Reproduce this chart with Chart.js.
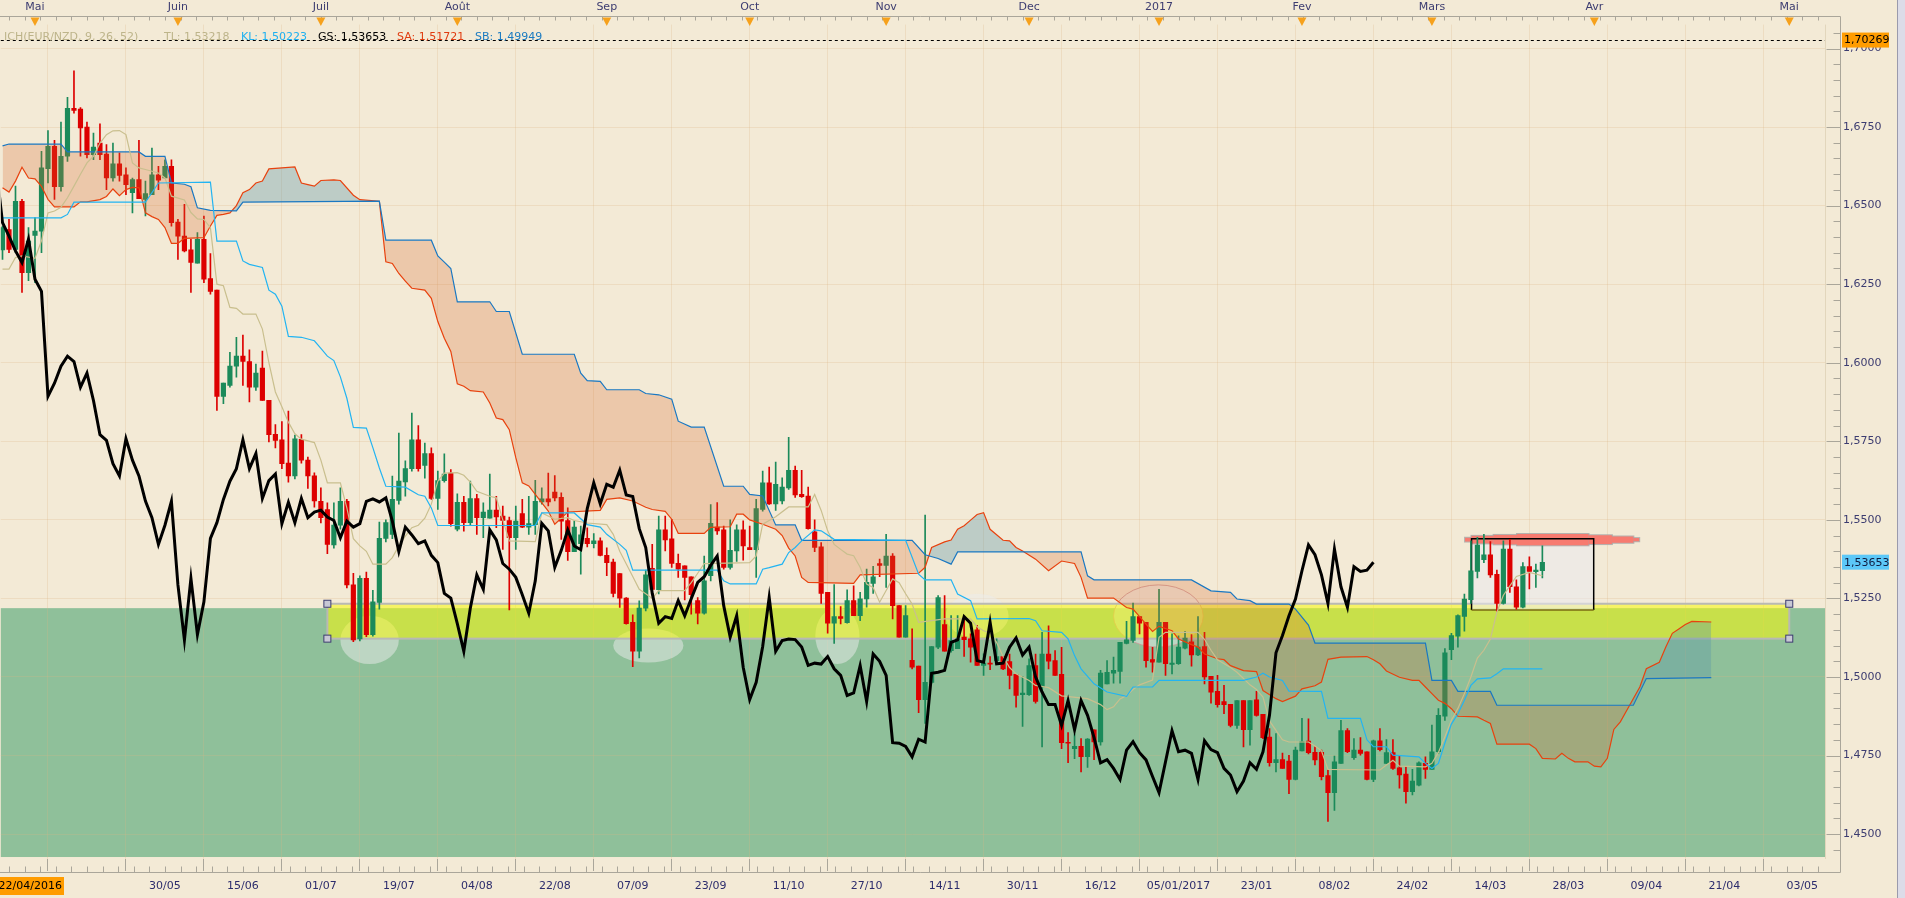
<!DOCTYPE html>
<html lang="fr">
<head>
<meta charset="utf-8">
<title>EUR/NZD - Ichimoku</title>
<script src="https://cdn.jsdelivr.net/npm/chart.js@4.4.1/dist/chart.umd.min.js"></script>
<style>
  html, body { margin: 0; padding: 0; background: #f3ead6; overflow: hidden; }
  canvas { display: block; }
</style>
</head>
<body>
<canvas id="ichimokuChart" width="1905" height="898"></canvas>
<script>
// Bougies journalières EUR/NZD (index = séance)
const opens = [
  1.6359,1.6424,1.6361,1.6514,1.6287,1.6405,1.6419,1.6618,1.6689,1.6560,
  1.6657,1.6810,1.6807,1.6750,1.6662,1.6699,1.6664,1.6588,1.6633,1.6598,
  1.6541,1.6583,1.6520,1.6535,1.6598,1.6588,1.6625,1.6448,1.6403,1.6359,
  1.6317,1.6393,1.6268,1.6231,1.5893,1.5928,1.5989,1.6021,1.6004,1.5922,
  1.5983,1.5880,1.5772,1.5755,1.5681,1.5640,1.5756,1.5690,1.5640,1.5559,
  1.5533,1.5420,1.5483,1.5559,1.5293,1.5121,1.5314,1.5135,1.5237,1.5441,
  1.5454,1.5562,1.5621,1.5663,1.5755,1.5673,1.5711,1.5568,1.5625,1.5649,
  1.5470,1.5556,1.5491,1.5568,1.5507,1.5505,1.5531,1.5512,1.5498,1.5443,
  1.5520,1.5477,1.5485,1.5557,1.5567,1.5588,1.5572,1.5498,1.5399,1.5424,
  1.5441,1.5424,1.5433,1.5387,1.5366,1.5329,1.5251,1.5174,1.5082,1.5219,
  1.5346,1.5278,1.5468,1.5440,1.5362,1.5354,1.5319,1.5243,1.5203,1.5322,
  1.5477,1.5468,1.5349,1.5401,1.5468,1.5412,1.5405,1.5533,1.5618,1.5551,
  1.5560,1.5602,1.5658,1.5581,1.5576,1.5462,1.5414,1.5269,1.5171,1.5192,
  1.5173,1.5243,1.5195,1.5248,1.5298,1.5361,1.5355,1.5385,1.5227,1.5127,
  1.5053,1.5035,1.4928,1.4983,1.5095,1.5167,1.5084,1.5090,1.5127,1.5121,
  1.5150,1.5037,1.5043,1.5052,1.5065,1.5049,1.5008,1.4944,1.4944,1.5036,
  1.4968,1.5073,1.5052,1.5008,1.4791,1.4772,1.4779,1.4746,1.4832,1.4793,
  1.4978,1.5012,1.5018,1.5107,1.5116,1.5192,1.5174,1.5055,1.5047,1.5174,
  1.5040,1.5042,1.5092,1.5112,1.5070,1.5097,1.5002,1.4954,1.4922,1.4913,
  1.4846,1.4925,1.4832,1.4927,1.4881,1.4809,1.4727,1.4737,1.4732,1.4674,
  1.4765,1.4796,1.4760,1.4760,1.4686,1.4632,1.4725,1.4829,1.4743,1.4767,
  1.4762,1.4674,1.4797,1.4725,1.4759,1.4711,1.4691,1.4635,1.4656,1.4725,
  1.4706,1.4762,1.4875,1.5087,1.5130,1.5193,1.5246,1.5336,1.5373,1.5389,
  1.5327,1.5234,1.5407,1.5287,1.5222,1.5351,1.5335,1.5338
];
const highs = [
  1.6435,1.6456,1.6562,1.6520,1.6430,1.6462,1.6673,1.6739,1.6708,1.6766,
  1.6845,1.6929,1.6812,1.6766,1.6731,1.6760,1.6694,1.6699,1.6668,1.6620,
  1.6588,1.6708,1.6578,1.6683,1.6625,1.6646,1.6646,1.6456,1.6504,1.6393,
  1.6414,1.6467,1.6347,1.6231,1.5935,1.6033,1.6081,1.6088,1.6041,1.5996,
  1.6037,1.5880,1.5803,1.5813,1.5846,1.5770,1.5771,1.5700,1.5650,1.5602,
  1.5554,1.5554,1.5602,1.5565,1.5330,1.5322,1.5334,1.5276,1.5493,1.5500,
  1.5639,1.5776,1.5688,1.5840,1.5800,1.5744,1.5729,1.5655,1.5710,1.5660,
  1.5583,1.5575,1.5623,1.5581,1.5554,1.5646,1.5575,1.5544,1.5509,1.5544,
  1.5565,1.5575,1.5626,1.5602,1.5649,1.5641,1.5586,1.5538,1.5496,1.5480,
  1.5475,1.5456,1.5443,1.5411,1.5375,1.5329,1.5253,1.5198,1.5242,1.5340,
  1.5422,1.5512,1.5512,1.5502,1.5391,1.5354,1.5319,1.5253,1.5385,1.5549,
  1.5555,1.5480,1.5500,1.5484,1.5497,1.5480,1.5565,1.5655,1.5668,1.5684,
  1.5634,1.5763,1.5671,1.5658,1.5604,1.5500,1.5428,1.5269,1.5294,1.5224,
  1.5277,1.5290,1.5269,1.5343,1.5352,1.5375,1.5454,1.5393,1.5227,1.5227,
  1.5153,1.5035,1.5515,1.5097,1.5259,1.5259,1.5195,1.5195,1.5185,1.5137,
  1.5164,1.5074,1.5065,1.5121,1.5065,1.5073,1.5008,1.5001,1.5058,1.5073,
  1.5142,1.5163,1.5084,1.5094,1.4823,1.4818,1.4804,1.4804,1.4832,1.5021,
  1.5052,1.5063,1.5110,1.5177,1.5235,1.5192,1.5174,1.5094,1.5279,1.5174,
  1.5137,1.5131,1.5145,1.5135,1.5192,1.5142,1.5002,1.5005,1.4973,1.4913,
  1.4925,1.4925,1.4925,1.4954,1.4881,1.4836,1.4820,1.4758,1.4751,1.4777,
  1.4868,1.4867,1.4778,1.4767,1.4704,1.4748,1.4862,1.4836,1.4804,1.4807,
  1.4762,1.4799,1.4836,1.4801,1.4801,1.4751,1.4714,1.4706,1.4730,1.4746,
  1.4847,1.4899,1.5090,1.5139,1.5198,1.5264,1.5433,1.5444,1.5454,1.5431,
  1.5340,1.5433,1.5438,1.5309,1.5364,1.5382,1.5359,1.5417
];
const lows = [
  1.6329,1.6350,1.6350,1.6224,1.6261,1.6255,1.6350,1.6572,1.6520,1.6546,
  1.6641,1.6794,1.6657,1.6652,1.6646,1.6646,1.6551,1.6578,1.6578,1.6535,
  1.6477,1.6522,1.6467,1.6535,1.6551,1.6588,1.6435,1.6329,1.6353,1.6224,
  1.6317,1.6255,1.6218,1.5848,1.5870,1.5922,1.5954,1.5928,1.5875,1.5912,
  1.5880,1.5748,1.5729,1.5663,1.5620,1.5630,1.5680,1.5600,1.5540,1.5490,
  1.5392,1.5410,1.5470,1.5283,1.5112,1.5115,1.5128,1.5130,1.5216,1.5430,
  1.5440,1.5550,1.5575,1.5655,1.5655,1.5633,1.5565,1.5533,1.5620,1.5480,
  1.5465,1.5464,1.5485,1.5454,1.5443,1.5505,1.5475,1.5406,1.5213,1.5406,
  1.5475,1.5454,1.5454,1.5550,1.5544,1.5560,1.5438,1.5371,1.5399,1.5327,
  1.5414,1.5411,1.5385,1.5322,1.5255,1.5221,1.5168,1.5033,1.5061,1.5210,
  1.5270,1.5264,1.5401,1.5349,1.5317,1.5245,1.5200,1.5169,1.5200,1.5306,
  1.5454,1.5343,1.5343,1.5368,1.5372,1.5405,1.5317,1.5528,1.5549,1.5530,
  1.5551,1.5597,1.5571,1.5571,1.5470,1.5399,1.5234,1.5139,1.5107,1.5169,
  1.5171,1.5195,1.5179,1.5222,1.5266,1.5319,1.5285,1.5185,1.5127,1.5127,
  1.5026,1.4886,1.4852,1.4980,1.5090,1.5082,1.5079,1.5090,1.5065,1.5047,
  1.5037,1.5005,1.5023,1.5047,1.5023,1.4962,1.4904,1.4843,1.4941,1.4917,
  1.4777,1.5026,1.5005,1.4772,1.4727,1.4740,1.4698,1.4712,1.4737,1.4783,
  1.4978,1.4980,1.4980,1.5105,1.5110,1.5137,1.5031,1.5015,1.5047,1.5005,
  1.5010,1.5040,1.5089,1.5034,1.5068,1.4978,1.4917,1.4904,1.4883,1.4841,
  1.4836,1.4777,1.4783,1.4875,1.4804,1.4716,1.4698,1.4709,1.4629,1.4672,
  1.4765,1.4755,1.4720,1.4672,1.4540,1.4575,1.4725,1.4759,1.4738,1.4751,
  1.4672,1.4667,1.4765,1.4725,1.4706,1.4646,1.4598,1.4625,1.4653,1.4677,
  1.4706,1.4757,1.4862,1.5055,1.5095,1.5146,1.5234,1.5315,1.5364,1.5317,
  1.5209,1.5232,1.5269,1.5216,1.5220,1.5280,1.5285,1.5315
];
const closes = [
  1.6430,1.6361,1.6514,1.6287,1.6387,1.6419,1.6620,1.6689,1.6560,1.6657,
  1.6810,1.6803,1.6747,1.6662,1.6686,1.6662,1.6588,1.6633,1.6596,1.6567,
  1.6583,1.6522,1.6538,1.6598,1.6581,1.6625,1.6446,1.6403,1.6356,1.6319,
  1.6393,1.6266,1.6227,1.5893,1.5935,1.5989,1.6021,1.6004,1.5922,1.5967,
  1.5880,1.5771,1.5753,1.5679,1.5640,1.5758,1.5690,1.5640,1.5560,1.5507,
  1.5422,1.5483,1.5559,1.5293,1.5118,1.5314,1.5135,1.5239,1.5441,1.5491,
  1.5565,1.5623,1.5663,1.5755,1.5663,1.5711,1.5568,1.5625,1.5646,1.5488,
  1.5556,1.5491,1.5568,1.5507,1.5525,1.5531,1.5509,1.5498,1.5443,1.5496,
  1.5477,1.5488,1.5559,1.5567,1.5557,1.5570,1.5496,1.5399,1.5477,1.5452,
  1.5424,1.5433,1.5387,1.5364,1.5266,1.5251,1.5170,1.5082,1.5219,1.5325,
  1.5279,1.5468,1.5436,1.5361,1.5343,1.5317,1.5262,1.5203,1.5306,1.5489,
  1.5465,1.5349,1.5403,1.5468,1.5417,1.5405,1.5536,1.5618,1.5551,1.5613,
  1.5604,1.5658,1.5579,1.5574,1.5472,1.5412,1.5266,1.5171,1.5192,1.5186,
  1.5243,1.5195,1.5249,1.5301,1.5319,1.5355,1.5385,1.5227,1.5127,1.5195,
  1.5031,1.4928,1.4983,1.5097,1.5253,1.5082,1.5116,1.5121,1.5119,1.5095,
  1.5037,1.5044,1.5041,1.5065,1.5026,1.5005,1.4941,1.4949,1.5036,1.4922,
  1.5073,1.5050,1.5005,1.4791,1.4789,1.4779,1.4746,1.4802,1.4793,1.5012,
  1.5015,1.5021,1.5110,1.5118,1.5192,1.5171,1.5052,1.5047,1.5174,1.5042,
  1.5044,1.5095,1.5124,1.5070,1.5095,1.5000,1.4952,1.4912,1.4912,1.4846,
  1.4925,1.4832,1.4925,1.4878,1.4807,1.4727,1.4737,1.4709,1.4674,1.4767,
  1.4794,1.4759,1.4736,1.4683,1.4632,1.4730,1.4829,1.4762,1.4767,1.4757,
  1.4674,1.4797,1.4769,1.4759,1.4709,1.4688,1.4635,1.4669,1.4727,1.4706,
  1.4762,1.4878,1.5077,1.5132,1.5195,1.5248,1.5338,1.5420,1.5389,1.5325,
  1.5234,1.5407,1.5287,1.5222,1.5351,1.5336,1.5340,1.5365
];

// Lignes Ichimoku : [séance, prix] aux sommets de chaque ligne
const tenkanPts = [[0,1.6298],[1,1.6298],[2,1.6335],[3,1.6340],[5,1.6332],[6,1.6388],[7,1.6477],[8,1.6483],[9,1.6495],[10,1.6525],[11,1.6562],[12,1.6600],[13,1.6636],[14,1.6657],[15,1.6699],[16,1.6726],[17,1.6738],[18,1.6739],[19,1.6726],[20,1.6636],[21,1.6620],[22,1.6615],[24,1.6604],[25,1.6588],[26,1.6530],[28,1.6518],[29,1.6478],[30,1.6458],[31,1.6456],[32,1.6430],[33,1.6250],[34,1.6245],[35,1.6176],[36,1.6173],[37,1.6155],[39,1.6155],[40,1.6107],[41,1.6000],[42,1.5907],[43,1.5860],[44,1.5811],[45,1.5774],[46,1.5757],[48,1.5746],[49,1.5690],[50,1.5618],[52,1.5618],[53,1.5538],[54,1.5440],[55,1.5417],[56,1.5400],[57,1.5359],[59,1.5359],[60,1.5380],[61,1.5417],[62,1.5448],[63,1.5475],[64,1.5483],[65,1.5505],[66,1.5550],[67,1.5623],[68,1.5649],[70,1.5650],[71,1.5642],[72,1.5620],[73,1.5591],[75,1.5575],[76,1.5570],[77,1.5500],[78,1.5433],[82,1.5431],[83,1.5522],[85,1.5502],[87,1.5507],[88,1.5498],[90,1.5490],[93,1.5485],[94,1.5454],[95,1.5400],[97,1.5320],[98,1.5279],[99,1.5265],[100,1.5250],[101,1.5275],[105,1.5275],[106,1.5300],[107,1.5330],[108,1.5361],[115,1.5364],[116,1.5385],[117,1.5486],[119,1.5510],[121,1.5541],[124,1.5541],[125,1.5581],[126,1.5530],[127,1.5465],[128,1.5422],[129,1.5406],[130,1.5391],[131,1.5386],[132,1.5349],[133,1.5296],[134,1.5285],[135,1.5238],[136,1.5275],[137,1.5312],[138,1.5300],[139,1.5265],[140,1.5232],[141,1.5174],[145,1.5185],[149,1.5185],[150,1.5160],[151,1.5147],[152,1.5140],[153,1.5110],[154,1.5065],[155,1.5030],[156,1.5010],[158,1.4989],[159,1.4973],[161,1.4966],[163,1.4940],[167,1.4931],[169,1.4912],[170,1.4896],[171,1.4905],[172,1.4930],[173,1.4941],[174,1.4960],[175,1.4975],[177,1.4990],[178,1.5126],[179,1.5142],[184,1.5142],[185,1.5120],[186,1.5085],[187,1.5055],[189,1.5030],[190,1.5015],[191,1.4995],[192,1.4975],[193,1.4960],[194,1.4936],[195,1.4860],[196,1.4830],[197,1.4800],[198,1.4793],[201,1.4793],[202,1.4780],[203,1.4765],[204,1.4706],[212,1.4704],[213,1.4720],[214,1.4735],[215,1.4716],[219,1.4714],[220,1.4725],[221,1.4760],[222,1.4810],[223,1.4862],[224,1.4900],[225,1.4947],[226,1.5000],[227,1.5060],[228,1.5085],[229,1.5121],[230,1.5206],[231,1.5260],[232,1.5290],[233,1.5320],[235,1.5333],[237,1.5322]];
const kijunPts = [[0,1.6461],[9,1.6461],[10,1.6472],[11,1.6511],[22,1.6511],[23,1.6541],[24,1.6572],[32,1.6575],[33,1.6387],[36,1.6387],[37,1.6324],[38,1.6313],[40,1.6303],[41,1.6231],[42,1.6218],[43,1.6180],[44,1.6084],[46,1.6081],[48,1.6070],[49,1.6046],[50,1.6021],[51,1.6007],[52,1.5955],[53,1.5887],[54,1.5794],[56,1.5792],[57,1.5730],[58,1.5665],[59,1.5607],[62,1.5604],[64,1.5580],[65,1.5575],[66,1.5538],[67,1.5482],[82,1.5482],[83,1.5522],[88,1.5522],[90,1.5485],[92,1.5477],[93,1.5454],[95,1.5422],[96,1.5403],[97,1.5340],[110,1.5340],[111,1.5306],[112,1.5296],[116,1.5296],[117,1.5343],[118,1.5348],[120,1.5359],[121,1.5396],[122,1.5412],[123,1.5433],[125,1.5468],[126,1.5465],[128,1.5438],[139,1.5435],[141,1.5327],[142,1.5309],[146,1.5309],[147,1.5264],[149,1.5243],[150,1.5185],[158,1.5186],[159,1.5179],[160,1.5147],[163,1.5142],[164,1.5121],[165,1.5068],[166,1.5026],[168,1.4978],[170,1.4952],[173,1.4938],[174,1.4968],[177,1.4968],[178,1.4989],[191,1.4989],[193,1.5000],[194,1.5012],[195,1.5000],[197,1.4989],[198,1.4955],[203,1.4954],[204,1.4868],[209,1.4868],[210,1.4800],[211,1.4778],[213,1.4778],[214,1.4751],[218,1.4746],[219,1.4725],[220,1.4709],[221,1.4725],[222,1.4790],[223,1.4850],[224,1.4883],[225,1.4926],[226,1.4973],[227,1.4994],[229,1.4997],[230,1.5010],[231,1.5026],[237,1.5026]];
const ssaPts = [[0,1.6557],[1,1.6543],[2,1.6578],[3,1.6622],[4,1.6588],[5,1.6585],[6,1.6561],[7,1.6520],[8,1.6496],[11,1.6496],[12,1.6512],[13,1.6512],[15,1.6519],[16,1.6529],[17,1.6553],[18,1.6532],[19,1.6551],[20,1.6558],[21,1.6557],[22,1.6477],[23,1.6465],[24,1.6456],[25,1.6430],[26,1.6380],[27,1.6380],[28,1.6396],[31,1.6398],[32,1.6435],[33,1.6469],[34,1.6472],[35,1.6477],[36,1.6500],[37,1.6541],[38,1.6551],[39,1.6572],[40,1.6578],[41,1.6617],[45,1.6623],[46,1.6572],[47,1.6567],[48,1.6562],[49,1.6580],[51,1.6582],[52,1.6580],[54,1.6533],[55,1.6519],[58,1.6514],[59,1.6321],[60,1.6316],[61,1.6284],[62,1.6260],[63,1.6237],[65,1.6231],[66,1.6205],[67,1.6131],[68,1.6078],[69,1.6036],[70,1.5933],[71,1.5925],[72,1.5911],[74,1.5907],[75,1.5872],[76,1.5824],[77,1.5819],[78,1.5787],[79,1.5698],[80,1.5618],[81,1.5608],[82,1.5581],[84,1.5528],[85,1.5486],[87,1.5525],[92,1.5530],[93,1.5565],[95,1.5570],[97,1.5560],[99,1.5540],[100,1.5533],[102,1.5527],[103,1.5502],[104,1.5457],[108,1.5457],[109,1.5476],[112,1.5478],[113,1.5518],[114,1.5518],[115,1.5500],[117,1.5486],[119,1.5470],[120,1.5450],[121,1.5410],[122,1.5385],[123,1.5317],[124,1.5301],[131,1.5298],[132,1.5325],[141,1.5330],[142,1.5349],[143,1.5412],[145,1.5430],[146,1.5436],[147,1.5470],[148,1.5481],[149,1.5499],[150,1.5517],[151,1.5523],[152,1.5470],[154,1.5435],[155,1.5433],[156,1.5412],[157,1.5401],[159,1.5375],[161,1.5338],[163,1.5369],[165,1.5361],[166,1.5317],[167,1.5251],[171,1.5251],[173,1.5221],[174,1.5216],[175,1.5192],[176,1.5168],[177,1.5145],[178,1.5161],[180,1.5147],[181,1.5121],[183,1.5103],[184,1.5095],[185,1.5073],[187,1.5058],[188,1.5055],[189,1.5036],[191,1.5020],[193,1.5017],[194,1.4957],[196,1.4931],[197,1.4922],[199,1.4939],[200,1.4962],[202,1.4972],[203,1.4984],[204,1.5056],[206,1.5063],[210,1.5065],[211,1.5055],[212,1.5042],[213,1.5019],[215,1.4999],[217,1.4989],[218,1.4989],[219,1.4968],[220,1.4947],[221,1.4926],[222,1.4916],[223,1.4899],[224,1.4875],[227,1.4873],[228,1.4862],[229,1.4852],[230,1.4786],[235,1.4786],[236,1.4772],[237,1.4741],[239,1.4739],[240,1.4757],[241,1.4741],[242,1.4730],[244,1.4730],[245,1.4716],[246,1.4714],[247,1.4741],[248,1.4833],[249,1.4857],[250,1.4894],[252,1.4968],[253,1.5026],[255,1.5047],[256,1.5095],[257,1.5139],[258,1.5153],[259,1.5167],[260,1.5177],[263,1.5175]];
const ssbPts = [[0,1.6690],[1,1.6696],[9,1.6696],[10,1.6671],[21,1.6671],[22,1.6657],[25,1.6657],[26,1.6572],[28,1.6568],[29,1.6560],[30,1.6493],[32,1.6485],[36,1.6483],[37,1.6511],[58,1.6514],[59,1.6390],[66,1.6390],[67,1.6340],[68,1.6320],[69,1.6300],[70,1.6194],[75,1.6194],[76,1.6163],[78,1.6163],[80,1.6027],[88,1.6027],[89,1.5967],[90,1.5943],[92,1.5941],[93,1.5914],[98,1.5914],[99,1.5902],[101,1.5898],[103,1.5884],[104,1.5814],[106,1.5795],[108,1.5795],[111,1.5607],[114,1.5607],[115,1.5581],[117,1.5576],[119,1.5484],[122,1.5484],[123,1.5435],[140,1.5435],[142,1.5389],[144,1.5377],[146,1.5359],[147,1.5398],[166,1.5398],[167,1.5322],[168,1.5309],[183,1.5309],[186,1.5274],[189,1.5269],[190,1.5248],[192,1.5243],[193,1.5232],[198,1.5232],[199,1.5216],[201,1.5165],[202,1.5108],[219,1.5108],[220,1.4989],[223,1.4989],[224,1.4954],[229,1.4954],[230,1.4910],[251,1.4910],[253,1.4995],[263,1.4998]];
const chikouShift = 26;

// Axes
const xRange = [-0.26, 280.5];
const yRange = [1.44207, 1.70761];
const yTickValues = [1.45, 1.475, 1.50, 1.525, 1.55, 1.575, 1.60, 1.625, 1.65, 1.675, 1.70];
const xTickLabels = ['30/05','15/06','01/07','19/07','04/08','22/08','07/09','23/09','11/10','27/10','14/11',
  '30/11','16/12','05/01/2017','23/01','08/02','24/02','14/03','28/03','09/04','21/04','03/05'];
const xTickStart = 25, xTickStep = 12;
const monthNames = ['Mai','Juin','Juil','Août','Sep','Oct','Nov','Dec','2017','Fev','Mars','Avr','Mai'];
const monthIdx = [5, 27, 49, 70, 93, 115, 136, 158, 178, 200, 220, 245, 275];

// Légende et repères
const legendTexts = ['ICH(EUR/NZD, 9, 26, 52)', 'TL: 1,53218', 'KL: 1,50223', 'GS: 1,53653', 'SA: 1,51721', 'SB: 1,49949'];
const dashedLevel = 1.70269;
const firstDateLabel = '22/04/2016';

// Annotations dessinées (en séances / prix)
const supportZone = [1.5219, 1.4427];
const bandRange = [50, 275];
const bandPrices = [1.5233, 1.5122];
const ellipses = [[56.5, 1.5118, 4.5, 0.0077], [99.4, 1.5100, 5.4, 0.0054], [128.5, 1.5131, 3.4, 0.0090],
  [150.0, 1.5195, 4.85, 0.0070], [177.9, 1.5194, 6.9, 0.0099]];
const rangeBox = [226.1, 244.9, 1.5440, 1.5213];
const strokeLevel = 1.5437;
const strokeSegs = [[225.1, 226.1, 0.0006], [226.1, 229.5, 0.0012], [229.5, 233.1, 0.0015], [233.1, 244.1, 0.0018],
  [244.1, 247.7, 0.0014], [247.7, 251.0, 0.0010], [251.0, 251.9, 0.0005]];

const GREEN = '#1b8a5a';
const RED = '#dd0000';
const FONT = 'DejaVu Sans';

const toXY = pts => pts.map(([i, p]) => ({ x: i, y: p }));
const fmt = v => v.toFixed(4).replace('.', ',');
const candleColors = closes.map((c, i) => (c >= opens[i] ? GREEN : RED));
const chikou = closes.map((c, i) => ({ x: i - chikouShift, y: c })).filter(pt => pt.x >= -1);
const xGridIdx = [xTickStart - 2 * xTickStep, xTickStart - xTickStep].concat(xTickLabels.map((_, k) => xTickStart + k * xTickStep));

const decorPlugin = {
    id: 'decor',
    beforeDraw(chart) {
        const { ctx, chartArea: a, scales: { y } } = chart;
        ctx.save();
        ctx.fillStyle = '#f3ead6';
        ctx.fillRect(0, 0, chart.width, chart.height);
        // zone verte de support
        const top = y.getPixelForValue(supportZone[0]);
        const bottom = Math.min(y.getPixelForValue(supportZone[1]), a.bottom);
        ctx.fillStyle = '#8fc09a';
        ctx.fillRect(a.left, top, a.right - a.left, bottom - top);
        ctx.restore();
    },
    beforeDatasetsDraw(chart) {
        const { ctx, chartArea: a, scales: { x, y } } = chart;
        ctx.save();
        ctx.beginPath();
        ctx.rect(a.left, a.top, a.right - a.left, a.bottom - a.top);
        ctx.clip();

        // ellipses claires
        ellipses.forEach(([ci, cp, ri, rp], k) => {
            const cx = x.getPixelForValue(ci), cy = y.getPixelForValue(cp);
            const rx = x.getPixelForValue(ci + ri) - cx;
            const ry = y.getPixelForValue(cp - rp) - cy;
            ctx.beginPath();
            ctx.ellipse(cx, cy, rx, ry, 0, 0, Math.PI * 2);
            ctx.fillStyle = 'rgba(236,236,236,0.5)';
            ctx.fill();
            if (k === ellipses.length - 1) {
                ctx.strokeStyle = 'rgba(205,150,150,0.8)';
                ctx.lineWidth = 1;
                ctx.stroke();
            }
        });

        // bande jaune
        const bx1 = x.getPixelForValue(bandRange[0]), bx2 = x.getPixelForValue(bandRange[1]);
        const by1 = y.getPixelForValue(bandPrices[0]), by2 = y.getPixelForValue(bandPrices[1]);
        ctx.fillStyle = 'rgba(247,250,10,0.55)';
        ctx.fillRect(bx1, by1, bx2 - bx1, by2 - by1);
        ctx.strokeStyle = '#b9b9b4';
        ctx.lineWidth = 2;
        ctx.strokeRect(bx1, by1, bx2 - bx1, by2 - by1);
        [[bx1, by1], [bx1, by2], [bx2, by1], [bx2, by2]].forEach(([hx, hy]) => {
            ctx.fillStyle = '#c8c8d4';
            ctx.fillRect(hx - 3.5, hy - 3.5, 7, 7);
            ctx.strokeStyle = '#3c3c70';
            ctx.lineWidth = 1;
            ctx.strokeRect(hx - 3.5, hy - 3.5, 7, 7);
        });

        // rectangle de consolidation
        const [ri1, ri2, rp1, rp2] = rangeBox;
        const rx1 = x.getPixelForValue(ri1), rx2 = x.getPixelForValue(ri2);
        const ry1 = y.getPixelForValue(rp1), ry2 = y.getPixelForValue(rp2);
        ctx.fillStyle = 'rgba(234,234,240,0.55)';
        ctx.fillRect(rx1, ry1, rx2 - rx1, ry2 - ry1);

        // trait rouge de résistance
        const segRect = ([s0, s1, h], grow) => {
            const sx0 = x.getPixelForValue(s0), sx1 = x.getPixelForValue(s1);
            const sy0 = y.getPixelForValue(strokeLevel + h), sy1 = y.getPixelForValue(strokeLevel - h);
            return [sx0 - grow, sy0 - grow, sx1 - sx0 + 2 * grow, sy1 - sy0 + 2 * grow];
        };
        ctx.fillStyle = 'rgba(165,165,165,0.8)';
        strokeSegs.forEach(s => ctx.fillRect(...segRect(s, 1)));
        ctx.fillStyle = '#f77b70';
        strokeSegs.forEach(s => ctx.fillRect(...segRect(s, 0)));

        ctx.lineWidth = 1.5;
        ctx.strokeStyle = '#000000';
        ctx.beginPath();
        ctx.moveTo(rx1, ry2); ctx.lineTo(rx1, ry1); ctx.lineTo(rx2, ry1); ctx.lineTo(rx2, ry2);
        ctx.stroke();
        ctx.strokeStyle = '#7a6a10';
        ctx.beginPath();
        ctx.moveTo(rx1, ry2); ctx.lineTo(rx2, ry2);
        ctx.stroke();
        ctx.restore();
    },
    afterDraw(chart) {
        const { ctx, chartArea: a, scales: { x, y } } = chart;
        const axisX = a.right + 15.5;
        const topY = 16.5;
        const botY = a.bottom + 13.5;
        ctx.save();

        // bord droit de la zone de tracé
        ctx.strokeStyle = '#e2d6bc';
        ctx.lineWidth = 1;
        ctx.beginPath(); ctx.moveTo(a.right + 0.5, a.top); ctx.lineTo(a.right + 0.5, a.bottom); ctx.stroke();

        // plus haut en pointillés
        const yd = Math.round(y.getPixelForValue(dashedLevel)) + 0.5;
        ctx.strokeStyle = '#000000';
        ctx.setLineDash([3, 3]);
        ctx.beginPath(); ctx.moveTo(a.left, yd); ctx.lineTo(a.right, yd); ctx.stroke();
        ctx.setLineDash([]);

        // légende de l'indicateur
        const legendColors = ['#bdb48a', '#bdb48a', '#1eb0f0', '#000000', '#e03c10', '#1a7ac0'];
        const legendX = [4, 164, 241, 318, 397, 475];
        ctx.font = '11px "' + FONT + '"';
        ctx.textBaseline = 'middle';
        ctx.textAlign = 'left';
        legendTexts.forEach((t, k) => {
            ctx.fillStyle = legendColors[k];
            ctx.fillText(t, legendX[k], 37);
        });

        // axe du haut : mois
        ctx.strokeStyle = '#aaa69a';
        ctx.beginPath(); ctx.moveTo(0, topY); ctx.lineTo(axisX, topY); ctx.stroke();
        ctx.beginPath();
        for (let v = 1; v <= x.max; v += 2.4) {
            const tx = Math.round(x.getPixelForValue(v)) + 0.5;
            ctx.moveTo(tx, topY); ctx.lineTo(tx, topY + 4);
        }
        ctx.stroke();
        ctx.textAlign = 'center';
        monthIdx.forEach((mi, k) => {
            const mx = x.getPixelForValue(mi);
            ctx.fillStyle = '#f6a11c';
            ctx.beginPath();
            ctx.moveTo(mx - 4.5, topY + 1); ctx.lineTo(mx + 4.5, topY + 1); ctx.lineTo(mx, topY + 9.5);
            ctx.closePath();
            ctx.fill();
            ctx.fillStyle = '#3c3c70';
            ctx.fillText(monthNames[k], mx, 7);
        });

        // axe du bas
        ctx.strokeStyle = '#aaa69a';
        ctx.beginPath(); ctx.moveTo(0, botY); ctx.lineTo(axisX, botY); ctx.stroke();
        ctx.beginPath();
        for (let v = 1; v <= x.max; v += 2.4) {
            const tx = Math.round(x.getPixelForValue(v)) + 0.5;
            ctx.moveTo(tx, botY - 6); ctx.lineTo(tx, botY);
        }
        ctx.stroke();

        // axe des prix
        ctx.beginPath(); ctx.moveTo(axisX, topY); ctx.lineTo(axisX, botY); ctx.stroke();
        ctx.beginPath();
        for (let k = Math.ceil(y.min / 0.005); k * 0.005 <= y.max; k++) {
            const ty = Math.round(y.getPixelForValue(k * 0.005)) + 0.5;
            ctx.moveTo(axisX - (k % 5 === 0 ? 14 : 7), ty); ctx.lineTo(axisX, ty);
        }
        ctx.stroke();

        // étiquettes de prix
        const tag = (value, fill, textColor) => {
            const ty = y.getPixelForValue(value);
            ctx.fillStyle = fill;
            ctx.fillRect(a.right + 17, ty - 7.5, 47, 15);
            ctx.fillStyle = textColor;
            ctx.textAlign = 'left';
            ctx.fillText(value.toFixed(5).replace('.', ','), a.right + 19, ty + 0.5);
        };
        tag(dashedLevel, '#ff9c00', '#000000');
        tag(1.53653, '#5cc8f8', '#101c40');

        // date de début en bas à gauche
        ctx.fillStyle = '#ff9c00';
        ctx.fillRect(0, a.bottom + 18, 64, 18);
        ctx.fillStyle = '#000000';
        ctx.textAlign = 'right';
        ctx.fillText(firstDateLabel, 62, a.bottom + 27.5);

        // bord de fenêtre
        ctx.fillStyle = '#dcdce8';
        ctx.fillRect(1897, 0, 8, chart.height);
        ctx.strokeStyle = '#9a9aac';
        ctx.beginPath(); ctx.moveTo(1897.5, 0); ctx.lineTo(1897.5, chart.height); ctx.stroke();
        ctx.restore();
    }
};

const lineBase = { type: 'line', pointRadius: 0, borderWidth: 1.2, tension: 0, fill: false };

const ctx = document.getElementById('ichimokuChart').getContext('2d');
const ichimokuChart = new Chart(ctx, {
    type: 'line',
    data: {
        datasets: [
            {
                type: 'bar', label: 'Mèches',
                data: closes.map((c, i) => ({ x: i, y: [lows[i], highs[i]] })),
                backgroundColor: candleColors, barThickness: 1, grouped: false, order: 7
            },
            {
                type: 'bar', label: 'Corps',
                data: closes.map((c, i) => ({ x: i, y: [opens[i], c] })),
                backgroundColor: candleColors, barThickness: 4.5, minBarLength: 1, grouped: false, order: 6
            },
            {
                ...lineBase, label: 'SA', data: toXY(ssaPts), borderColor: '#e8420e', order: 5,
                fill: { target: '+1', above: 'rgba(90,150,170,0.35)', below: 'rgba(215,98,38,0.25)' }
            },
            { ...lineBase, label: 'SB', data: toXY(ssbPts), borderColor: '#1a78c2', order: 4 },
            { ...lineBase, label: 'TL', data: toXY(tenkanPts), borderColor: '#c9bf8e', order: 3 },
            { ...lineBase, label: 'KL', data: toXY(kijunPts), borderColor: '#22b4f2', order: 2 },
            { ...lineBase, label: 'GS', data: chikou, borderColor: '#000000', borderWidth: 3, order: 1 }
        ]
    },
    options: {
        responsive: false,
        animation: false,
        devicePixelRatio: 1,
        events: [],
        layout: { padding: { left: 0, right: 15, top: 22, bottom: 0 } },
        plugins: { legend: { display: false }, tooltip: { enabled: false } },
        scales: {
            x: {
                type: 'linear', min: xRange[0], max: xRange[1], offset: false,
                afterBuildTicks: scale => { scale.ticks = xGridIdx.map(v => ({ value: v })); },
                afterFit: scale => { scale.height = 39; },
                ticks: {
                    autoSkip: false, maxRotation: 0, padding: 9, color: '#2c2c6c',
                    font: { family: FONT, size: 11 },
                    callback: value => {
                        const k = Math.round((value - xTickStart) / xTickStep);
                        return k >= 0 ? xTickLabels[k] : '';
                    }
                },
                grid: { color: 'rgba(220,180,130,0.25)', tickLength: 12, tickColor: '#aaa69a' },
                border: { display: false }
            },
            y: {
                type: 'linear', position: 'right', min: yRange[0], max: yRange[1],
                afterBuildTicks: scale => { scale.ticks = yTickValues.map(v => ({ value: v })); },
                afterFit: scale => { scale.width = 65; },
                ticks: { padding: 18, color: '#3c3c70', font: { family: FONT, size: 11 }, callback: v => fmt(v) },
                grid: { color: 'rgba(220,180,130,0.25)', drawTicks: false },
                border: { display: false }
            }
        }
    },
    plugins: [decorPlugin]
});
</script>
</body>
</html>
